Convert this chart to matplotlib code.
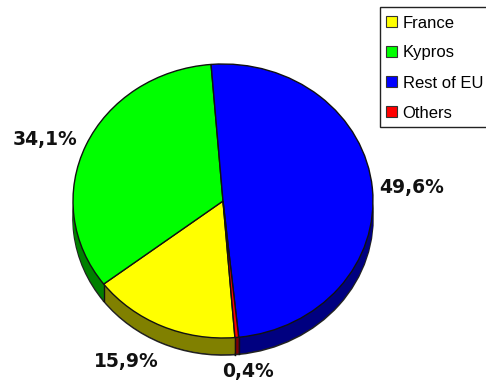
import numpy as np
import matplotlib
matplotlib.use("Agg")
import matplotlib.pyplot as plt
from matplotlib.patches import Patch, Rectangle

categories = ["France", "Kypros", "Rest of EU", "Others"]
values = [15.9, 34.1, 49.6, 0.4]
top_colors = ["#ffff00", "#00ff00", "#0000ff", "#ff0000"]
side_colors = ["#808000", "#008000", "#000080", "#800000"]

W, H = 486, 385
CX, CY, RX, RY, DEPTH = 223, 201, 150, 137, 17
START = -85.44

fig = plt.figure(figsize=(W / 100, H / 100), dpi=100)
ax = fig.add_axes([0, 0, 1, 1])


def px(x, y):
    return (x - CX) / RX, (CY - y) / RY


def pie(colors, offset, edge, lw):
    ax.pie(values, colors=colors, startangle=START, counterclock=False,
           center=(0, -offset / RY), radius=1,
           wedgeprops=dict(edgecolor=edge, linewidth=lw))


# Side wall, drawn from the bottom layer upward
pie(side_colors, DEPTH, "#222222", 1.2)
for d in range(DEPTH - 1, 0, -1):
    pie(side_colors, d, "none", 0)

# Vertical separators on the wall, at the slice boundaries in front
angle = START
for v in values:
    rad = np.deg2rad(angle)
    if np.sin(rad) < 0:
        xb, yb = np.cos(rad), np.sin(rad)
        ax.plot([xb, xb], [yb, yb - DEPTH / RY], color="#111111", lw=1.0, zorder=5)
    angle -= v * 3.6

# Top face
ax.pie(values, colors=top_colors, startangle=START, counterclock=False,
       wedgeprops=dict(edgecolor="#111111", linewidth=1.0, zorder=6))

ax.set_aspect("auto")
ax.set_xlim((0 - CX) / RX, (W - CX) / RX)
ax.set_ylim((CY - H) / RY, CY / RY)
ax.axis("off")

# Percentage labels
label_pos = [(126, 362), (45, 139), (412, 187), (248, 372)]
for v, (x, y) in zip(values, label_pos):
    lx, ly = px(x, y)
    ax.text(lx, ly, f"{v:.1f}%".replace(".", ","), ha="center", va="center",
            fontsize=13.5, fontweight="bold", family="DejaVu Sans",
            color="#111111", zorder=10)

# Legend frame
fig.add_artist(Rectangle((380 / W, 1 - 127 / H), 110 / W, 120 / H,
                         transform=fig.transFigure, facecolor="white",
                         edgecolor="#222222", linewidth=1.0))

# Legend entries
handles = [Patch(facecolor=c, edgecolor="#333333", linewidth=0.8) for c in top_colors]
leg = fig.legend(handles, categories, loc="upper left",
                 bbox_to_anchor=(386 / W, 1 - 15.5 / H), bbox_transform=fig.transFigure,
                 prop=dict(family="Liberation Sans", size=12),
                 frameon=False, borderaxespad=0, borderpad=0,
                 labelspacing=0.9,
                 handlelength=0.66, handleheight=0.66, handletextpad=0.33)
leg.set_zorder(20)

fig.savefig("out.png", dpi=100)
